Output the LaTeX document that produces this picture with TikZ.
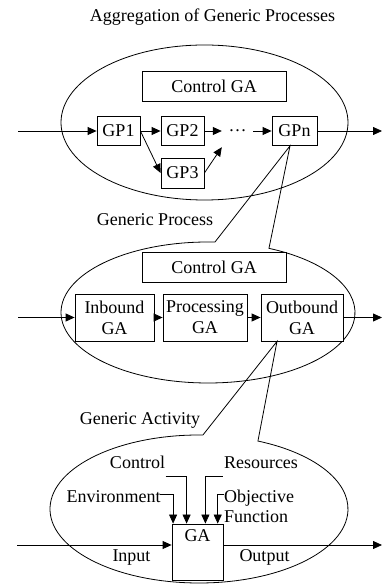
\documentclass[tikz,border=0pt]{standalone}
\usepackage{fontspec}
\setmainfont{Liberation Serif}
\usetikzlibrary{arrows.meta,calc}
\begin{document}
\begin{tikzpicture}[x=1pt,y=1pt,
  every node/.style={font=\fontsize{18}{21}\selectfont},
  box/.style={draw, line width=0.8pt, fill=white, inner sep=2pt, minimum height=29pt},
  lbl/.style={anchor=base, inner sep=0pt},
  lblw/.style={anchor=base west, inner sep=0pt},
  arr/.style={line width=0.8pt, -{Triangle[length=9pt,width=8pt]}},
  shapeline/.style={line width=0.8pt}]
\useasboundingbox (0,0) rectangle (383,584);

% ---------- level 1 ----------
\node[lbl] (title) at (212.5,562.3) {Aggregation of Generic Processes};
\draw[shapeline] (204.5,461.5) ellipse [x radius=143.5, y radius=77.5];
\node[box, minimum width=144pt, minimum height=30pt] (ctl1) at (214,498) {Control GA};
\node[box, minimum width=43pt] (gp1) at (118.5,453) {GP1};
\node[box, minimum width=43pt] (gp2) at (182.5,453) {GP2};
\node[inner sep=0pt, minimum width=31pt, minimum height=32pt] (dots) at (237.5,453) {…};
\node[box, minimum width=45pt] (gpn) at (294.5,453) {GPn};
\node[box, minimum width=43pt, minimum height=30pt] (gp3) at (182.5,411) {GP3};
\coordinate (in1) at (18,453);
\coordinate (out1) at (382,453);
\draw[arr] (in1) -- (gp1.west);
\draw[arr] (gp1.east) -- (gp2.west);
\draw[arr] (gp2.east) -- (dots.west);
\draw[arr] (dots.east) -- (gpn.west);
\draw[arr] (gpn.east) -- (out1);
\draw[arr] (gp1.east) -- (gp3.west);
\draw[arr] (gp3.east) -- (dots.south west);

% ---------- level 2 ----------
\coordinate (tip1) at ($(gpn.south)+(-4.5,0)$);
\draw[shapeline] (tip1) -- ($(208,271.5)+(87.3:147 and 70.5)$)
  arc[start angle=87.3, end angle=425.5, x radius=147, y radius=70.5] -- cycle;
\node[lbl] (gproc) at (155,358) {Generic Process};
\node[box, minimum width=144pt, minimum height=30pt] (ctl2) at (214,317) {Control GA};
\node[box, minimum width=79pt, minimum height=47pt, align=center] (inb) at (114.5,266.5) {Inbound\\GA};
\node[box, minimum width=84pt, minimum height=47pt, align=center] (proc) at (205,266.5) {Processing\\GA};
\node[box, minimum width=82pt, minimum height=47pt, align=center] (outb) at (302,266.5) {Outbound\\GA};
\coordinate (in2) at (18,266.5);
\coordinate (out2) at (382,266.5);
\draw[arr] (in2) -- (inb.west);
\draw[arr] (inb.east) -- (proc.west);
\draw[arr] (proc.east) -- (outb.west);
\draw[arr] (outb.east) -- (out2);

% ---------- level 3 ----------
\coordinate (tip2) at ($(outb.south)+(-25,0)$);
\draw[shapeline] (tip2) -- ($(199,75)+(88.5:149 and 74)$)
  arc[start angle=88.5, end angle=426.7, x radius=149, y radius=74] -- cycle;
\node[lbl] (gact) at (140,159) {Generic Activity};
\node[draw, line width=0.8pt, fill=white, minimum width=51pt, minimum height=56pt, inner sep=0pt] (ga) at (197.5,32) {};
\node[lbl] (galbl) at (197.5,42) {GA};
\node[lbl] (ctrl) at (137.5,115) {Control};
\node[lbl] (res) at (261,115) {Resources};
\node[lbl] (env) at (113.5,81) {Environment};
\node[lblw] (obj1) at (224,81) {Objective};
\node[lblw] (obj2) at (224,61) {Function};
\node[lbl] (inl) at (131.5,22) {Input};
\node[lbl] (outl) at (264.5,22) {Output};
\coordinate (in3) at (17,39);
\coordinate (out3) at (382,39);
\coordinate (envs) at (160,90);
\coordinate (ctrls) at (165.7,108);
\coordinate (ress) at (222.7,108);
\coordinate (objs) at (224,90);
\draw[arr] (in3) -- (in3 -| ga.west);
\draw[arr] (in3 -| ga.east) -- (out3);
\draw[arr] (envs) -| ($(ga.north west)+(1.5,0)$);
\draw[arr] (ctrls) -| ($(ga.north west)+(15,0)$);
\draw[arr] (ress) -| ($(ga.north east)+(-18,0)$);
\draw[arr] (objs) -| ($(ga.north east)+(-5.7,0)$);
\end{tikzpicture}
\end{document}
